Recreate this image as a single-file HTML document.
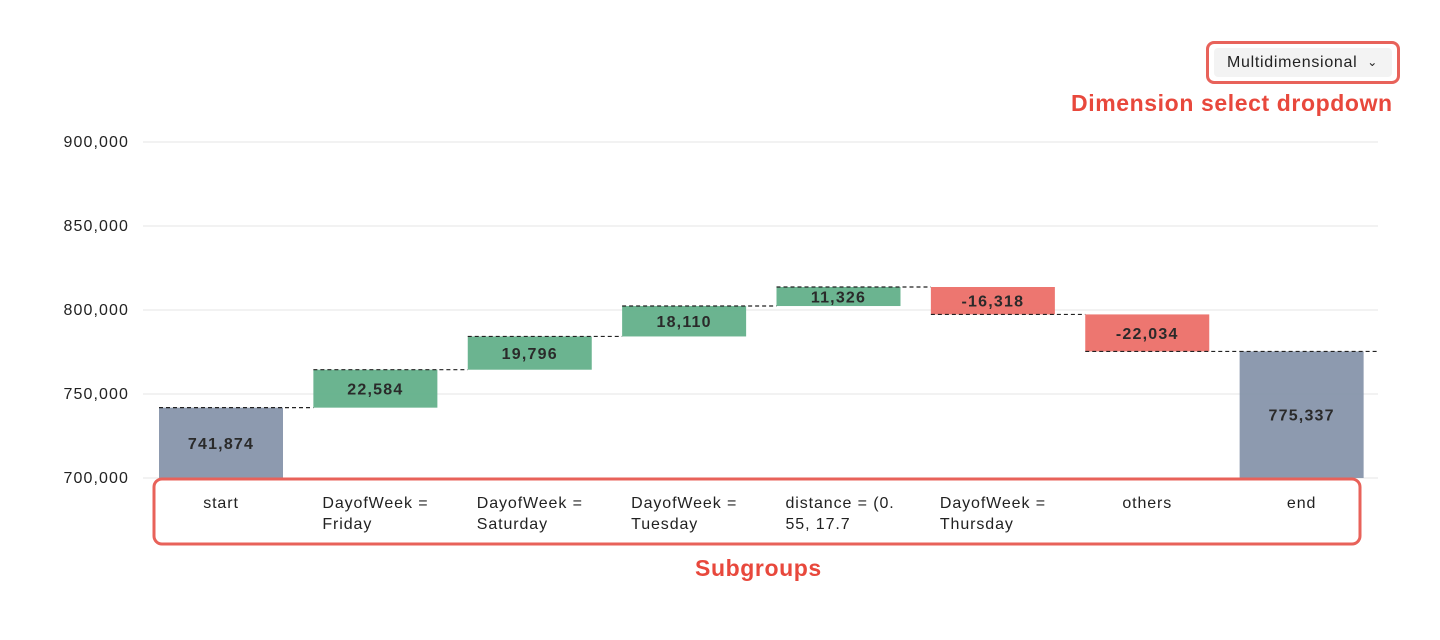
<!DOCTYPE html>
<html><head><meta charset="utf-8"><style>
body{margin:0;background:#fff;font-family:"Liberation Sans",sans-serif;}
#wrap{position:relative;width:1440px;height:640px;}
.dd{position:absolute;left:1206px;top:41px;width:194px;height:43px;box-sizing:border-box;border:3px solid #e8625a;border-radius:8px;}
.dd-inner{position:absolute;left:5px;top:4px;right:5px;bottom:4px;background:#f3f3f3;border-radius:4px;font-size:16px;letter-spacing:0.7px;color:#222;line-height:29px;padding-left:13px;}
.ann{position:absolute;color:#e8483c;font-weight:bold;font-size:23px;letter-spacing:0.6px;}
</style></head><body>
<div id="wrap">
<div class="dd"><div class="dd-inner">Multidimensional<span style="position:absolute;right:14px;top:0;font-size:12px">&#8964;</span></div></div>
<div class="ann" style="left:1071px;top:90px">Dimension select dropdown</div>
<div class="ann" style="left:695px;top:555px">Subgroups</div>
<svg id="chart" width="1440" height="640" style="position:absolute;left:0;top:0"></svg>
</div>
<script>
const categories=["start","DayofWeek = |Friday","DayofWeek = |Saturday","DayofWeek = |Tuesday","distance = (0.|55, 17.7","DayofWeek = |Thursday","others","end"];
const deltas=[741874,22584,19796,18110,11326,-16318,-22034,775337];
const ticks=[700000,750000,800000,850000,900000];
const tickLabels=["700,000","750,000","800,000","850,000","900,000"];
const NS="http://www.w3.org/2000/svg";
const svg=document.getElementById('chart');
const X0=143,X1=1378,band=(X1-X0)/categories.length;
function y(v){return 478-(v-700000)*84/50000;}
function bx(i){return X0+i*band+16;}
const bw=124;
function mk(t,a,p){const e=document.createElementNS(NS,t);for(const k in a)e.setAttribute(k,a[k]);(p||svg).appendChild(e);return e;}
ticks.forEach((t,i)=>{
 const l=mk('line',{x1:X0,x2:X1,y1:y(t),y2:y(t),stroke:'#e6e6e6'});
 
 
 const tx=mk('text',{x:129,y:y(t)+5,'text-anchor':'end','font-size':16,'letter-spacing':1.1,fill:'#222'});tx.textContent=tickLabels[i];
 
 
});
let run=0;
categories.forEach((c,i)=>{
 let lo,hi,col,val=deltas[i];
 if(i===0||i===categories.length-1){lo=700000;hi=val;col='#8795ab';run=val;}
 else{const prev=run;run+=val;lo=Math.min(prev,run);hi=Math.max(prev,run);col=val>=0?'#63b08a':'#ec6f68';}
 const r=mk('rect',{x:bx(i),y:y(hi),width:bw,height:y(lo)-y(hi),fill:col,opacity:0.95});
 
 
 const t=mk('text',{x:bx(i)+bw/2,y:(y(hi)+y(lo))/2+6,'text-anchor':'middle','font-size':16,'letter-spacing':1.2,'font-weight':'bold',fill:'#2a2a2a'});
 t.textContent=val.toLocaleString('en-US');
 
 
 const ye=y(i===categories.length-1?deltas[i]:run);
 const xe=i===categories.length-1?X1:bx(i+1);
 const d=mk('line',{x1:bx(i),x2:xe,y1:ye,y2:ye,stroke:'#222','stroke-dasharray':'4,3','stroke-width':1.2});
 
 
 const parts=c.split('|');
 parts.forEach((p,k)=>{
  const single=parts.length===1;
  const lt=mk('text',{x:single?bx(i)+bw/2:bx(i)+9,y:508+k*21,'text-anchor':single?'middle':'start','font-size':16,'letter-spacing':0.9,fill:'#222'});
  lt.textContent=p.trim();
  
  
 });
});
const box=mk('rect',{x:154,y:479,width:1206,height:65,rx:8,fill:'none',stroke:'#e8625a','stroke-width':3});


</script>
</body></html>
